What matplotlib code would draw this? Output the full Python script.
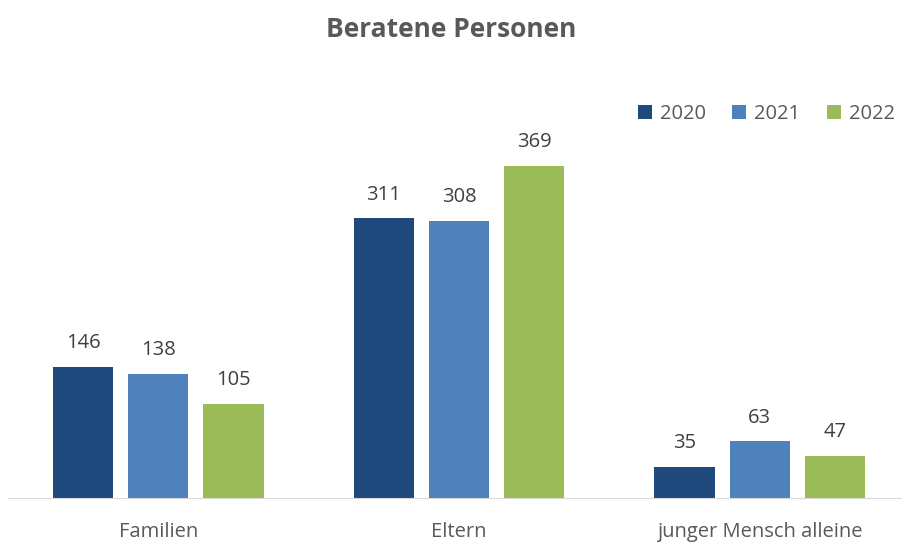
import numpy as np
import matplotlib.pyplot as plt

plt.rcParams['font.family'] = ['Open Sans', 'DejaVu Sans']

categories = ["Familien", "Eltern", "junger Mensch alleine"]
years = ["2020", "2021", "2022"]
v2020 = [146, 311, 35]
v2021 = [138, 308, 63]
v2022 = [105, 369, 47]
colors = ["#1F497D", "#4F81BD", "#9BBB59"]

fig = plt.figure(figsize=(9.03, 5.42), dpi=100)
ax = fig.add_axes([8 / 903, 44 / 542, 902 / 903, 360 / 542])

x = np.arange(len(categories))
w = 0.2
step = 0.25
for i, (vals, yr, c) in enumerate(zip([v2020, v2021, v2022], years, colors)):
    pos = x + (i - 1) * step
    bars = ax.bar(pos, vals, width=w, color=c, label=yr)
    for b, v in zip(bars, vals):
        ax.text(b.get_x() + b.get_width() / 2, v + 15, str(v),
                ha='center', va='bottom', fontsize=14.5, color='#404040')

ax.set_xlim(-0.5, 2.5)
ax.set_ylim(0, 400)
ax.set_yticks([])
ax.set_xticks(x)
ax.set_xticklabels(categories, fontsize=14.5, color='#595959')
ax.tick_params(axis='x', length=0, pad=17)
for s in ['top', 'right', 'left']:
    ax.spines[s].set_visible(False)
ax.spines['bottom'].set_color('#D9D9D9')

fig.suptitle("Beratene Personen", x=0.5, y=0.97, fontsize=19, fontweight='bold', color='#595959')

fig.legend(loc='center right', bbox_to_anchor=(1.011, 0.79), ncol=3, frameon=False,
           fontsize=14.5, labelcolor='#595959', handlelength=0.7, handleheight=0.7,
           handletextpad=0.4, columnspacing=1.3)

fig.savefig("out.png", dpi=100)
